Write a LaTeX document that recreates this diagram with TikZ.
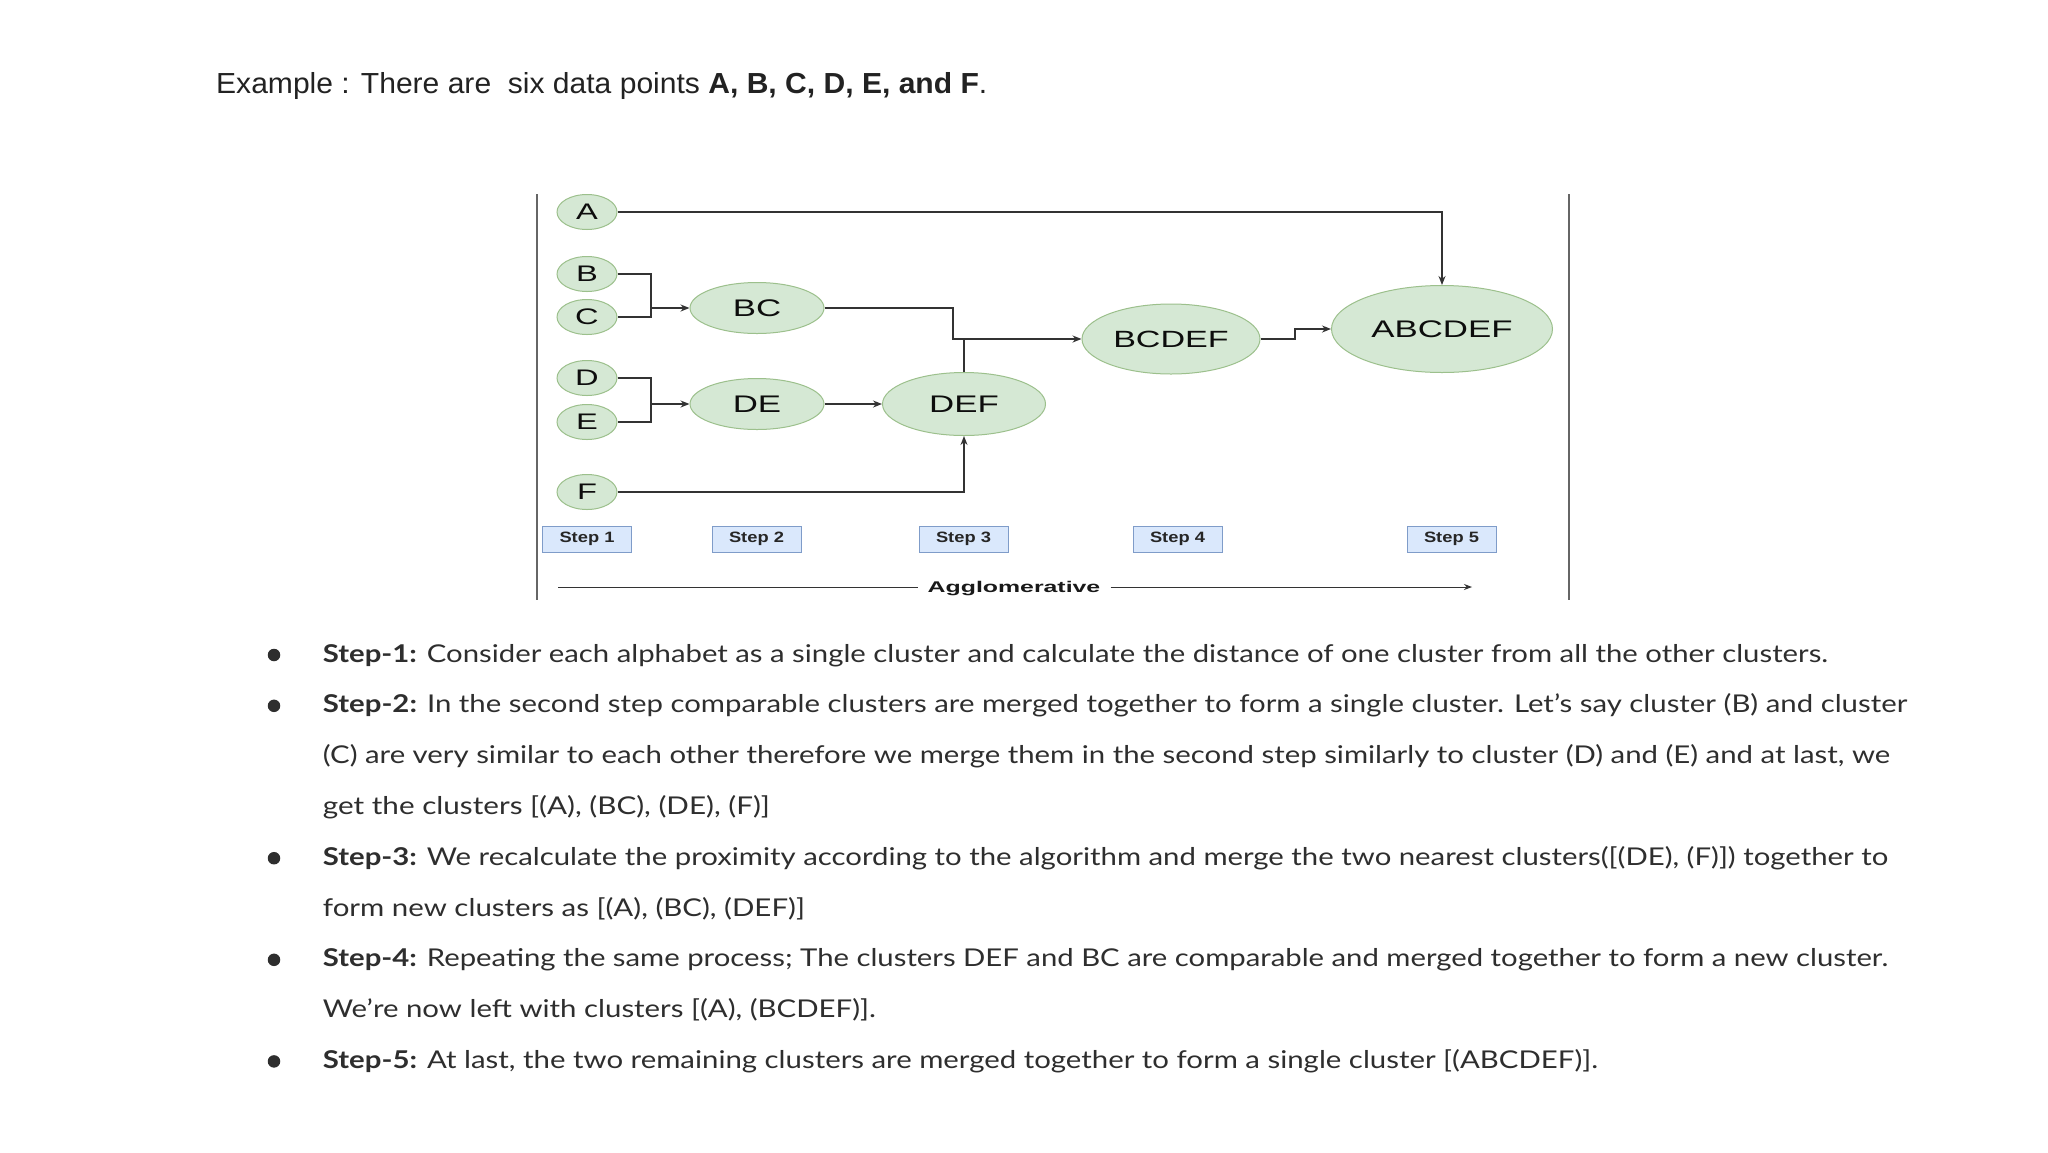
\documentclass[tikz,border=0pt]{standalone}
\usepackage{fontspec}
\usepackage{graphicx}
\usetikzlibrary{shapes.geometric,arrows.meta,calc}
\setmainfont{Lato}
\newfontfamily\arialf{Liberation Sans}
\definecolor{leaffill}{HTML}{D5E8D4}
\definecolor{leafdraw}{HTML}{9CC08C}
\definecolor{stepfill}{HTML}{DAE8FC}
\definecolor{stepdraw}{HTML}{7F9CC9}
\definecolor{linec}{HTML}{333333}
\definecolor{bodyc}{HTML}{2E2E2E}
\definecolor{titlec}{HTML}{222222}
\newcommand{\fitw}[2]{\resizebox{#1}{\height}{#2}}
\newcommand{\wide}[1]{\scalebox{1.45}[1]{#1}}
\tikzset{
  cl/.style={ellipse, fill=leaffill, draw=leafdraw, line width=1pt, inner sep=0pt, text=black!95,
    font=\arialf\fontsize{24}{24}\selectfont},
  leaf/.style={cl, minimum width=60pt, minimum height=35pt, font=\arialf\fontsize{22.5}{22.5}\selectfont},
  stepbox/.style={rectangle, fill=stepfill, draw=stepdraw, line width=1pt, minimum width=89pt,
    minimum height=26pt, inner sep=0pt, text=black!85, font=\arialf\bfseries\fontsize{15}{15}\selectfont},
  conn/.style={draw=linec, line width=1.4pt},
  arr/.style={conn, -{Stealth[length=9pt,width=7pt]}},
  frame/.style={draw=black!60, line width=1.3pt},
  bodyline/.style={anchor=base west, inner sep=0pt, text=bodyc, font=\fontsize{24.5}{24.5}\selectfont},
  bullet/.style={circle, fill=bodyc, inner sep=0pt, minimum size=12.5pt},
}
\begin{document}
\begin{tikzpicture}[x=1pt,y=-1pt]
\path[use as bounding box, fill=white] (0,0) rectangle (2048,1152);

% title
\node[anchor=base west, inner sep=0pt, text=titlec] (title) at (216,93)
  {\fitw{771pt}{\arialf\fontsize{29}{29}\selectfont Example : There are\ \ six data points \textbf{A, B, C, D, E, and F}.}};

% frame lines
\coordinate (fl1) at (537,194); \coordinate (fl2) at (537,600);
\coordinate (fr1) at (1569,194); \coordinate (fr2) at (1569,600);
\draw[frame] (fl1) -- (fl2);
\draw[frame] (fr1) -- (fr2);

% leaves
\node[leaf] (A) at (587,212) {\wide{A}};
\node[leaf] (B) at (587,274) {\wide{B}};
\node[leaf] (C) at (587,317) {\wide{C}};
\node[leaf] (D) at (587,378) {\wide{D}};
\node[leaf] (E) at (587,422) {\wide{E}};
\node[leaf] (F) at (587,492) {\wide{F}};

% clusters
\node[cl, minimum width=134pt, minimum height=51pt] (BC) at (757,308) {\wide{BC}};
\node[cl, minimum width=134pt, minimum height=51pt] (DE) at (757,404) {\wide{DE}};
\node[cl, minimum width=163pt, minimum height=63pt] (DEF) at (964,404) {\wide{DEF}};
\node[cl, minimum width=178pt, minimum height=70pt, font=\arialf\fontsize{23.5}{23.5}\selectfont] (BCDEF) at (1171,339) {\wide{BCDEF}};
\node[cl, minimum width=221pt, minimum height=87pt] (ABCDEF) at (1442,329) {\wide{ABCDEF}};

% connectors
\coordinate (bcj) at (651,308);
\coordinate (dej) at (651,404);
\coordinate (j1) at (953,339);
\coordinate (j2) at (1295,329);
\draw[arr] (A.east) -| (ABCDEF.north);
\draw[conn] (B.east) -| (bcj) |- (C.east);
\draw[arr] (bcj) -- (BC.west);
\draw[conn] (D.east) -| (dej) |- (E.east);
\draw[arr] (dej) -- (DE.west);
\draw[arr] (DE.east) -- (DEF.west);
\draw[arr] (F.east) -| (DEF.south);
\draw[arr] (BC.east) -| (j1) -- (BCDEF.west);
\draw[conn] (DEF.north) -- (DEF.north |- j1);
\draw[arr] (BCDEF.east) -| (j2) -- (ABCDEF.west);

% step boxes
\node[stepbox] (s1) at (587,539) {\fitw{55pt}{Step 1}};
\node[stepbox] (s2) at (756.5,539) {\fitw{55pt}{Step 2}};
\node[stepbox] (s3) at (963.5,539) {\fitw{55pt}{Step 3}};
\node[stepbox] (s4) at (1177.5,539) {\fitw{55pt}{Step 4}};
\node[stepbox] (s5) at (1451.5,539) {\fitw{55pt}{Step 5}};

% agglomerative axis
\node[anchor=base, inner ysep=0pt, inner xsep=10pt, text=black!90,
  font=\arialf\bfseries\fontsize{15.5}{15.5}\selectfont] (agg) at (1014,592.5) {\fitw{172.6pt}{Agglomerative}};
\coordinate (aggL) at (558,587);
\coordinate (aggR) at (1472,587);
\draw[draw=linec, line width=1pt] (aggL) -- (aggL -| agg.west);
\draw[draw=linec, line width=1pt, -{Stealth[length=8pt,width=6pt]}] (aggL -| agg.east) -- (aggR);

% bullets
\node[bullet] (b1) at (274,655) {};
\node[bullet] (b2) at (274,705.8) {};
\node[bullet] (b3) at (274,858.2) {};
\node[bullet] (b4) at (274,959.8) {};
\node[bullet] (b5) at (274,1061.4) {};

% body text
\node[bodyline] (l1) at (322.7,662) {\fitw{1505pt}{\textbf{Step-1:} Consider each alphabet as a single cluster and calculate the distance of one cluster from all the other clusters.}};
\node[bodyline] (l2) at (322.7,712.8) {\fitw{1584pt}{\textbf{Step-2:} In the second step comparable clusters are merged together to form a single cluster. Let’s say cluster (B) and cluster}};
\node[bodyline] (l3) at (322.7,763.6) {\fitw{1567pt}{(C) are very similar to each other therefore we merge them in the second step similarly to cluster (D) and (E) and at last, we}};
\node[bodyline] (l4) at (322.7,814.4) {\fitw{447pt}{get the clusters [(A), (BC), (DE), (F)]}};
\node[bodyline] (l5) at (322.7,865.2) {\fitw{1565pt}{\textbf{Step-3:} We recalculate the proximity according to the algorithm and merge the two nearest clusters([(DE), (F)]) together to}};
\node[bodyline] (l6) at (322.7,916) {\fitw{482pt}{form new clusters as [(A), (BC), (DEF)]}};
\node[bodyline] (l7) at (322.7,966.8) {\fitw{1565pt}{\textbf{Step-4:} Repeating the same process; The clusters DEF and BC are comparable and merged together to form a new cluster.}};
\node[bodyline] (l8) at (322.7,1017.6) {\fitw{553pt}{We’re now left with clusters [(A), (BCDEF)].}};
\node[bodyline] (l9) at (322.7,1068.4) {\fitw{1275pt}{\textbf{Step-5:} At last, the two remaining clusters are merged together to form a single cluster [(ABCDEF)].}};
\end{tikzpicture}
\end{document}
